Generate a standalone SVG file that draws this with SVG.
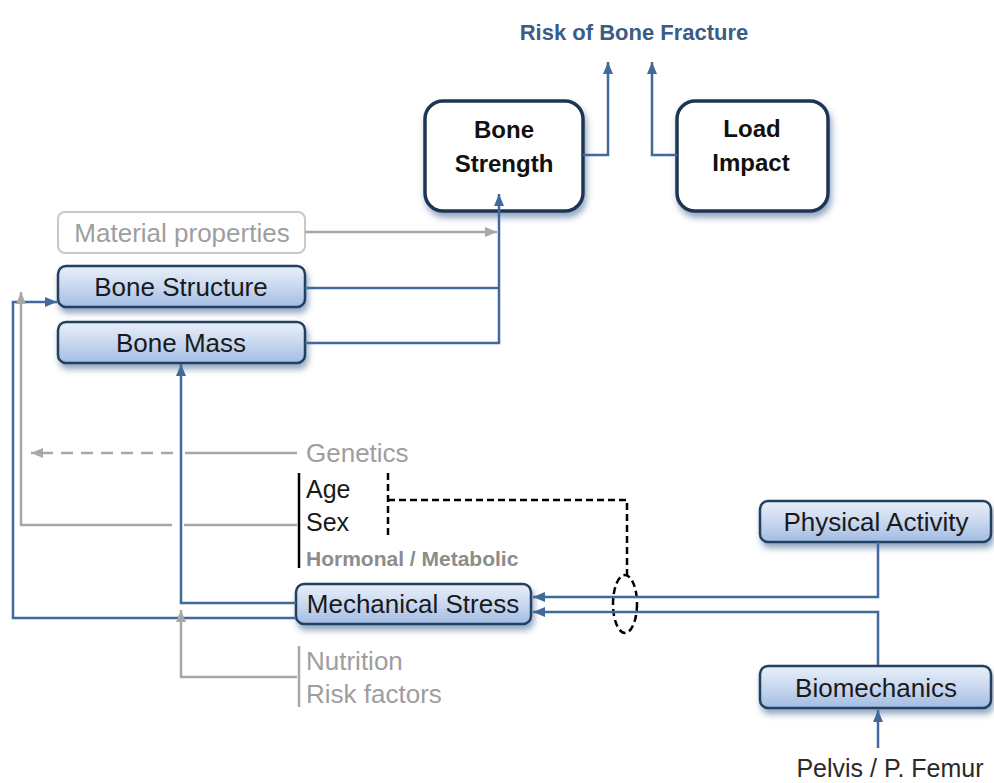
<svg xmlns="http://www.w3.org/2000/svg" width="994" height="783" viewBox="0 0 994 783">
<style>
.t{font-family:"Liberation Sans",Arial,sans-serif}
.node{font-size:26px;fill:#1a1a1a;text-anchor:middle}
.big{font-size:24px;font-weight:bold;fill:#111;text-anchor:middle}
.gray{font-size:26px;fill:#9e9e9e}
.blk{font-size:25px;fill:#1a1a1a}
.bl{fill:none;stroke:#41699b;stroke-width:2.5}
.gr{fill:none;stroke:#a8a8a8;stroke-width:2.5}
.bx{fill:url(#g);stroke:#243f60;stroke-width:2.5}
.bb{fill:#fff;stroke:#1f3552;stroke-width:3.5}
</style>
<defs>
<linearGradient id="g" x1="0" y1="0" x2="0" y2="1">
<stop offset="0" stop-color="#e8eff9"/>
<stop offset="0.5" stop-color="#c9d8ef"/>
<stop offset="1" stop-color="#a2bce3"/>
</linearGradient>
<filter id="sh" x="-10%" y="-10%" width="125%" height="150%">
<feDropShadow dx="2" dy="5" stdDeviation="3" flood-color="#3a5f8f" flood-opacity="0.55"/>
</filter>
<marker id="ab" viewBox="0 0 12 10" refX="12" refY="5" markerWidth="12" markerHeight="10" orient="auto" markerUnits="userSpaceOnUse"><path d="M0,0 L12,5 L0,10 z" fill="#41699b"/></marker>
<marker id="ag" viewBox="0 0 12 10" refX="12" refY="5" markerWidth="12" markerHeight="10" orient="auto" markerUnits="userSpaceOnUse"><path d="M0,0 L12,5 L0,10 z" fill="#a8a8a8"/></marker>
</defs>
<rect width="994" height="783" fill="#fff"/>

<text class="t" x="634" y="40" font-size="22" font-weight="bold" fill="#3b5c85" text-anchor="middle">Risk of Bone Fracture</text>

<g id="bone-strength">
<rect class="bb" x="425" y="101" width="158" height="110" rx="18" filter="url(#sh)"/>
<text class="t big" x="504" y="138">Bone</text>
<text class="t big" x="504" y="172">Strength</text>
</g>
<g id="load-impact">
<rect class="bb" x="677" y="101" width="151" height="110" rx="18" filter="url(#sh)"/>
<text class="t big" x="752" y="137">Load</text>
<text class="t big" x="751" y="171">Impact</text>
</g>
<g id="material-properties">
<rect x="58" y="212" width="247" height="41" rx="7" fill="#fff" stroke="#c8c8c8" stroke-width="2"/>
<text class="t gray" x="182" y="242" text-anchor="middle" font-size="27" fill="#a8a8a8">Material properties</text>
</g>
<g id="bone-structure">
<rect class="bx" x="58" y="266" width="247" height="41" rx="8" filter="url(#sh)"/>
<text class="t node" x="181" y="296">Bone Structure</text>
</g>
<g id="bone-mass">
<rect class="bx" x="58" y="322" width="247" height="41" rx="8" filter="url(#sh)"/>
<text class="t node" x="181" y="352">Bone Mass</text>
</g>
<g id="genetics">
<text class="t gray" x="306" y="462">Genetics</text>
</g>
<g id="age-sex">
<text class="t blk" x="306" y="498">Age</text>
<text class="t blk" x="306" y="531">Sex</text>
<text class="t" x="306" y="566" font-size="21" font-weight="bold" fill="#8c8c8c">Hormonal / Metabolic</text>
</g>
<g id="mechanical-stress">
<rect class="bx" x="296" y="584" width="235" height="40" rx="8" filter="url(#sh)"/>
<text class="t node" x="413" y="613">Mechanical Stress</text>
</g>
<g id="nutrition">
<text class="t gray" x="306" y="670">Nutrition</text>
<text class="t gray" x="306" y="703">Risk factors</text>
</g>
<g id="physical-activity">
<rect class="bx" x="760" y="501" width="231" height="41" rx="8" filter="url(#sh)"/>
<text class="t node" x="876" y="531">Physical Activity</text>
</g>
<g id="biomechanics">
<rect class="bx" x="760" y="666" width="231" height="42" rx="8" filter="url(#sh)"/>
<text class="t node" x="876" y="697">Biomechanics</text>
</g>
<g id="pelvis">
<text class="t" x="890" y="777" font-size="25" fill="#2a2a2a" text-anchor="middle">Pelvis / P. Femur</text>
</g>

<g id="connectors">
<path class="bl" d="M583,155 H608 V62" marker-end="url(#ab)"/>
<path class="bl" d="M677,155 H652 V62" marker-end="url(#ab)"/>
<path class="gr" d="M305,232 H497" marker-end="url(#ag)"/>
<path class="bl" d="M305,288 H499"/>
<path class="bl" d="M305,343 H499 V194" marker-end="url(#ab)"/>
<path class="bl" d="M296,618 H13 V302 H57" marker-end="url(#ab)"/>
<path class="bl" d="M296,603 H181 V364" marker-end="url(#ab)"/>
<path class="gr" d="M297,453 H185"/>
<path class="gr" d="M173,453 H31" stroke-dasharray="12 8" marker-end="url(#ag)"/>
<path class="gr" d="M297,525 H184"/>
<path class="gr" d="M172,525 H21 V292" marker-end="url(#ag)"/>
<path class="gr" d="M297,677 H181 V610" marker-end="url(#ag)"/>
<path fill="none" stroke="#000" stroke-width="2.5" d="M299,473 V568"/>
<path fill="none" stroke="#a8a8a8" stroke-width="2.5" d="M299,646 V707"/>
<path fill="none" stroke="#000" stroke-width="2.5" stroke-dasharray="7 4" d="M388,473 V535 M388,500 H627 V575"/>
<ellipse cx="625" cy="604" rx="12" ry="29" fill="none" stroke="#000" stroke-width="2.5" stroke-dasharray="7 4"/>
<path class="bl" d="M878,542 V597 H533" marker-end="url(#ab)"/>
<path class="bl" d="M878,665 V612 H533" marker-end="url(#ab)"/>
<path class="bl" d="M878,748 V710" marker-end="url(#ab)"/>
</g>
</svg>
